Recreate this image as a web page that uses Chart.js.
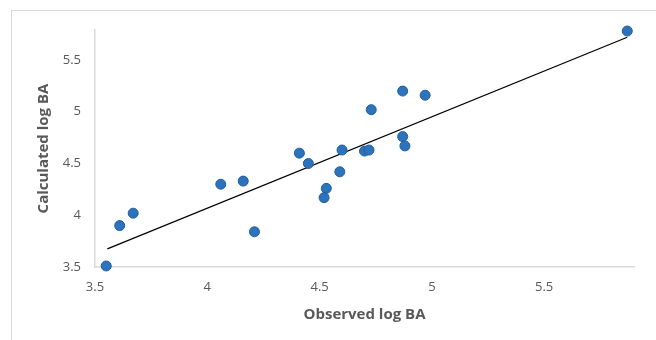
<!DOCTYPE html>
<html>
<head>
<meta charset="utf-8">
<script src="https://cdn.jsdelivr.net/npm/chart.js@4/dist/chart.umd.min.js"></script>
<style>
  html, body { margin: 0; padding: 0; background: #ffffff; }
  #wrap { position: relative; width: 656px; height: 340px; overflow: hidden; }
  #frame { position: absolute; left: 11px; top: 10px; width: 700px; height: 400px;
           border-left: 1px solid #d9d9d9; border-top: 1px solid #d9d9d9; }
  canvas { position: absolute; left: 0; top: 0; }
</style>
</head>
<body>
<div id="wrap">
  <div id="frame"></div>
  <canvas id="scatterChart" width="656" height="340"></canvas>
</div>
<script>
// observed vs calculated values
const observed = [3.55, 3.61, 3.67, 4.06, 4.16, 4.21, 4.41, 4.45, 4.53, 4.52,
                  4.59, 4.60, 4.73, 4.70, 4.72, 4.87, 4.97, 4.87, 4.88, 5.87];
const calculated = [3.51, 3.90, 4.02, 4.30, 4.33, 3.84, 4.60, 4.50, 4.26, 4.17,
                    4.42, 4.63, 5.02, 4.62, 4.63, 5.20, 5.16, 4.76, 4.67, 5.78];

// linear trendline end points
const trendX = [3.555, 5.87];
const trendY = [3.675, 5.72];

const xTicks = [3.5, 4, 4.5, 5, 5.5];
const yTicks = [3.5, 4, 4.5, 5, 5.5];

const textGray = '#595959';
const axisGray = '#d9d9d9';

const points = observed.map((x, i) => ({ x: x, y: calculated[i] }));
const trend = trendX.map((x, i) => ({ x: x, y: trendY[i] }));

const ctx = document.getElementById('scatterChart').getContext('2d');

new Chart(ctx, {
  type: 'scatter',
  data: {
    datasets: [
      {
        label: 'Calculated',
        data: points,
        backgroundColor: '#2d73bc',
        borderColor: '#1f5ea0',
        borderWidth: 1,
        pointRadius: 5,
        clip: false,
        order: 1
      },
      {
        label: 'Trend',
        type: 'line',
        data: trend,
        borderColor: '#000000',
        borderWidth: 1.2,
        pointRadius: 0,
        fill: false,
        clip: false,
        order: 2
      }
    ]
  },
  options: {
    responsive: false,
    animation: false,
    layout: {
      padding: { top: 30, right: 22, left: 0, bottom: 0 }
    },
    plugins: {
      legend: { display: false },
      tooltip: { enabled: false }
    },
    scales: {
      x: {
        type: 'linear',
        min: 3.5,
        max: 5.9,
        afterBuildTicks: (scale) => { scale.ticks = xTicks.map(v => ({ value: v })); },
        afterFit: (scale) => { scale.height = 73; },
        grid: { display: false, drawTicks: false },
        border: { display: true, color: axisGray, width: 1.5 },
        ticks: {
          color: textGray,
          padding: 12,
          callback: (v) => String(v),
          font: { family: 'Open Sans', size: 13 }
        },
        title: {
          display: true,
          text: 'Observed log BA',
          color: textGray,
          padding: { bottom: 16 },
          font: { family: 'Open Sans', size: 15, weight: 'bold' }
        }
      },
      y: {
        type: 'linear',
        min: 3.5,
        max: 5.79,
        afterBuildTicks: (scale) => { scale.ticks = yTicks.map(v => ({ value: v })); },
        afterFit: (scale) => { scale.width = 95; },
        grid: { display: false, drawTicks: false },
        border: { display: true, color: axisGray, width: 1.5 },
        ticks: {
          color: textGray,
          padding: 14,
          callback: (v) => String(v),
          font: { family: 'Open Sans', size: 13 }
        },
        title: {
          display: true,
          text: 'Calculated log BA',
          color: textGray,
          padding: { top: 35 },
          font: { family: 'Open Sans', size: 15, weight: 'bold' }
        }
      }
    }
  }
});
</script>
</body>
</html>
